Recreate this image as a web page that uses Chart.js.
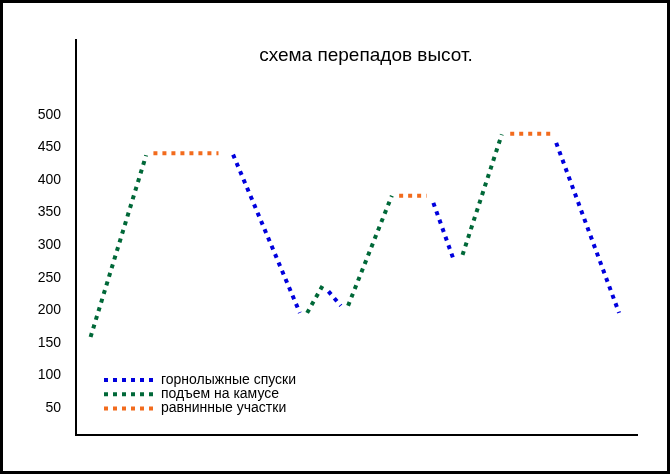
<!DOCTYPE html>
<html>
<head>
<meta charset="utf-8">
<script src="https://cdn.jsdelivr.net/npm/chart.js@4/dist/chart.umd.min.js"></script>
<style>
  html, body { margin: 0; padding: 0; background: #fff; }
  #wrap { width: 670px; height: 474px; position: relative; }
</style>
</head>
<body>
<div id="wrap"><canvas id="chart"></canvas></div>
<script>
// высоты по участкам трассы, null = разрыв между участками
const descentX = [28.0, 39.9, 39.9, 45.0, 47.2, 47.2, 63.7, 67.3, 67.3, 85.6, 96.8];
const descentY = [439, 196, null, 229, 207, null, 365, 278, null, 457, 196];

const climbX = [2.6, 12.5, 12.5, 41.2, 44.1, 44.1, 48.5, 56.3, 56.3, 68.9, 75.9];
const climbY = [159, 438, null, 196, 240, null, 207, 376, null, 285, 470];

const flatX = [13.8, 25.4, 25.4, 57.6, 62.5, 62.5, 77.4, 85.1];
const flatY = [441, 441, null, 376, 376, null, 471, 471];

const yTicks = [50, 100, 150, 200, 250, 300, 350, 400, 450, 500];
const labels = ["горнолыжные спуски", "подъем на камусе", "равнинные участки"];
const colors = ["#0000dd", "#006838", "#f26b1d"];
const title = "схема перепадов высот.";

const FONT = "'Liberation Sans', Arial, sans-serif";

function pts(xs, ys) {
    return xs.map((x, i) => ({ x: x, y: ys[i] }));
}

function ds(i, xs, ys) {
    return {
        label: labels[i],
        data: pts(xs, ys),
        borderColor: colors[i],
        borderWidth: 4,
        borderDash: [4, 5],
        borderCapStyle: "butt",
        pointRadius: 0,
        tension: 0,
        spanGaps: false
    };
}

// рамка, заголовок и легенда внутри области графика
const extras = {
    id: "extras",
    afterDraw(chart) {
        const ctx = chart.ctx;
        ctx.save();
        ctx.strokeStyle = "#000";
        ctx.lineWidth = 6;
        ctx.strokeRect(0, 0, chart.width, chart.height);

        ctx.fillStyle = "#000";
        ctx.font = "19px " + FONT;
        ctx.textAlign = "center";
        ctx.textBaseline = "middle";
        ctx.fillText(title, 366, 56);

        ctx.font = "14px " + FONT;
        ctx.textAlign = "left";
        labels.forEach((t, i) => {
            const y = 380 + i * 14.3;
            ctx.strokeStyle = colors[i];
            ctx.lineWidth = 4;
            ctx.lineCap = "butt";
            ctx.setLineDash([4, 5]);
            ctx.beginPath();
            ctx.moveTo(104, y);
            ctx.lineTo(153, y);
            ctx.stroke();
            ctx.setLineDash([]);
            ctx.fillStyle = "#000";
            ctx.fillText(t, 161, y);
        });
        ctx.restore();
    }
};

new Chart(document.getElementById("chart"), {
    type: "line",
    data: {
        datasets: [
            ds(0, descentX, descentY),
            ds(1, climbX, climbY),
            ds(2, flatX, flatY)
        ]
    },
    options: {
        responsive: true,
        maintainAspectRatio: false,
        animation: false,
        layout: { padding: { top: 40, right: 33, bottom: 39, left: 0 } },
        plugins: {
            legend: { display: false },
            title: { display: false },
            tooltip: { enabled: false }
        },
        scales: {
            x: {
                type: "linear",
                min: 0,
                max: 100,
                grid: { display: false, drawTicks: false },
                border: { display: true, color: "#000", width: 2 },
                ticks: { display: false },
                afterFit: s => { s.height = 0; }
            },
            y: {
                min: 8.5,
                max: 615,
                grid: { display: false, drawTicks: false },
                border: { display: true, color: "#000", width: 2 },
                ticks: {
                    color: "#000",
                    padding: 15,
                    font: { family: FONT, size: 14 }
                },
                afterBuildTicks: s => { s.ticks = yTicks.map(v => ({ value: v })); },
                afterFit: s => { s.width = 76; }
            }
        }
    },
    plugins: [extras]
});
</script>
</body>
</html>
